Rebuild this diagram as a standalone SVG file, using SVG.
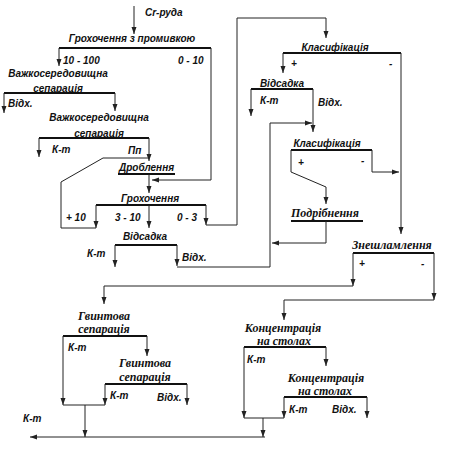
<svg xmlns="http://www.w3.org/2000/svg" width="450" height="454" viewBox="0 0 450 454">
<defs>
<marker id="ah" markerUnits="userSpaceOnUse" markerWidth="8" markerHeight="6" refX="7" refY="3" orient="auto">
<path d="M0,0.5 L7,3 L0,5.5 z" fill="#222"/>
</marker>
<style>
.s{font-family:"Liberation Sans",Arial,sans-serif;font-style:italic;font-weight:bold;font-size:10px;fill:#111}
.r{font-family:"Liberation Serif","Times New Roman",serif;font-style:italic;font-weight:bold;font-size:12px;fill:#111}
.m{text-anchor:middle}
.bar{stroke:#111;stroke-width:2;fill:none}
.c{stroke:#222;stroke-width:1;fill:none}
.a{marker-end:url(#ah)}
</style>
</defs>
<rect width="450" height="454" fill="#fff"/>

<g id="n-ore"><text class="s" x="145" y="16">Cr-руда</text></g>

<g id="n-screen1">
<text class="s m" x="132" y="42">Грохочення з промивкою</text>
<line class="bar" x1="59" y1="48" x2="211" y2="48"/>
<text class="s" x="63" y="64">10 - 100</text>
<text class="s" x="178" y="64">0 - 10</text>
</g>

<g id="n-hms1">
<text class="s m" x="58" y="77">Важкосередовищна</text>
<text class="s m" x="58" y="92">сепарація</text>
<line class="bar" x1="4" y1="93" x2="115" y2="93"/>
<text class="s" x="8" y="107">Відх.</text>
</g>

<g id="n-hms2">
<text class="s m" x="99" y="121">Важкосередовищна</text>
<text class="s m" x="99" y="137">сепарація</text>
<line class="bar" x1="39" y1="138" x2="149" y2="138"/>
<text class="s" x="52" y="153">К-т</text>
<text class="s" x="128" y="154">Пп</text>
</g>

<g id="n-crush">
<text class="s m" x="146.5" y="171">Дроблення</text>
<line class="bar" x1="118" y1="174" x2="175" y2="174"/>
</g>

<g id="n-screen2">
<text class="s m" x="150" y="202">Грохочення</text>
<line class="bar" x1="96" y1="205" x2="206" y2="205"/>
<text class="s" x="66" y="221">+ 10</text>
<text class="s" x="115" y="221">3 - 10</text>
<text class="s" x="177" y="221">0 - 3</text>
</g>

<g id="n-jig1">
<text class="s m" x="145" y="240">Відсадка</text>
<line class="bar" x1="115" y1="245" x2="177" y2="245"/>
<text class="s" x="87" y="257">К-т</text>
<text class="s" x="182" y="261">Відх.</text>
</g>

<g id="n-class1">
<text class="s m" x="335" y="51">Класифікація</text>
<line class="bar" x1="283" y1="53" x2="401" y2="53"/>
<text class="s" x="291" y="67">+</text>
<text class="s" x="389" y="67">-</text>
</g>

<g id="n-jig2">
<text class="s m" x="282" y="87">Відсадка</text>
<line class="bar" x1="251" y1="89" x2="313" y2="89"/>
<text class="s" x="260" y="104">К-т</text>
<text class="s" x="318" y="106">Відх.</text>
</g>

<g id="n-class2">
<text class="s m" x="327" y="147">Класифікація</text>
<line class="bar" x1="291" y1="150" x2="372" y2="150"/>
<text class="s" x="298" y="166">+</text>
<text class="s" x="361" y="164">-</text>
</g>

<g id="n-grind">
<text class="r m" x="325" y="217">Подрібнення</text>
<line class="bar" x1="291" y1="221" x2="363" y2="221"/>
</g>

<g id="n-deslime">
<text class="r m" x="392" y="249">Знешламлення</text>
<line class="bar" x1="353" y1="253" x2="434" y2="253"/>
<text class="s" x="359" y="267">+</text>
<text class="s" x="421" y="267">-</text>
</g>

<g id="n-spiral1">
<text class="r m" x="104" y="320">Гвинтова</text>
<text class="r m" x="104" y="333">сепарація</text>
<line class="bar" x1="63" y1="336" x2="147" y2="336"/>
<text class="s" x="68" y="351">К-т</text>
</g>

<g id="n-spiral2">
<text class="r m" x="145" y="367">Гвинтова</text>
<text class="r m" x="145" y="381">сепарація</text>
<line class="bar" x1="105" y1="384" x2="187" y2="384"/>
<text class="s" x="110" y="399">К-т</text>
<text class="s" x="157" y="401">Відх.</text>
</g>

<g id="n-table1">
<text class="r m" x="283" y="332">Концентрація</text>
<text class="r m" x="284" y="345">на столах</text>
<line class="bar" x1="244" y1="347" x2="326" y2="347"/>
<text class="s" x="247" y="363">К-т</text>
</g>

<g id="n-table2">
<text class="r m" x="326" y="382">Концентрація</text>
<text class="r m" x="325" y="395">на столах</text>
<line class="bar" x1="284" y1="397" x2="367" y2="397"/>
<text class="s" x="289" y="413">К-т</text>
<text class="s" x="332" y="413">Відх.</text>
</g>

<g id="n-product"><text class="s" x="23" y="422">К-т</text></g>

<g id="connectors">
<path class="c a" d="M134,6 V34"/>
<path class="c a" d="M59,48 V66"/>
<path class="c a" d="M211,48 V180 H152"/>
<path class="c a" d="M4,93 V113"/>
<path class="c a" d="M115,93 V111"/>
<path class="c a" d="M39,138 V157"/>
<path class="c a" d="M149,138 V161"/>
<path class="c a" d="M149,174 V193"/>
<path class="c a" d="M96,205 V228"/>
<path class="c" d="M96,228 H61 V182 L103,158 H149"/>
<path class="c a" d="M149,205 V228"/>
<path class="c a" d="M206,205 V225"/>
<path class="c a" d="M206,225 H237 V18 H326 V38"/>
<path class="c a" d="M115,245 V267"/>
<path class="c a" d="M177,245 V266"/>
<path class="c a" d="M177,267 H270 V123 H312"/>
<path class="c a" d="M283,53 V73"/>
<path class="c a" d="M401,53 V234"/>
<path class="c a" d="M251,89 V116"/>
<path class="c a" d="M313,89 V132"/>
<path class="c a" d="M291,150 V172 L326,187 V204"/>
<path class="c a" d="M372,150 V172 H399"/>
<path class="c a" d="M326,221 V243 H272"/>
<path class="c a" d="M353,253 V286"/>
<path class="c a" d="M353,286 H104 V304"/>
<path class="c a" d="M434,253 V300"/>
<path class="c a" d="M434,300 H284 V320"/>
<path class="c a" d="M147,336 V356"/>
<path class="c a" d="M63,336 V405"/>
<path class="c a" d="M105,384 V405"/>
<path class="c" d="M63,405 H105"/>
<path class="c a" d="M85,405 V437"/>
<path class="c a" d="M187,384 V405"/>
<path class="c a" d="M326,347 V366"/>
<path class="c a" d="M244,347 V418"/>
<path class="c a" d="M284,397 V418"/>
<path class="c" d="M244,418 H284"/>
<path class="c a" d="M263,418 V437"/>
<path class="c a" d="M367,397 V418"/>
<path class="c a" d="M265,437 H30"/>
</g>
</svg>
